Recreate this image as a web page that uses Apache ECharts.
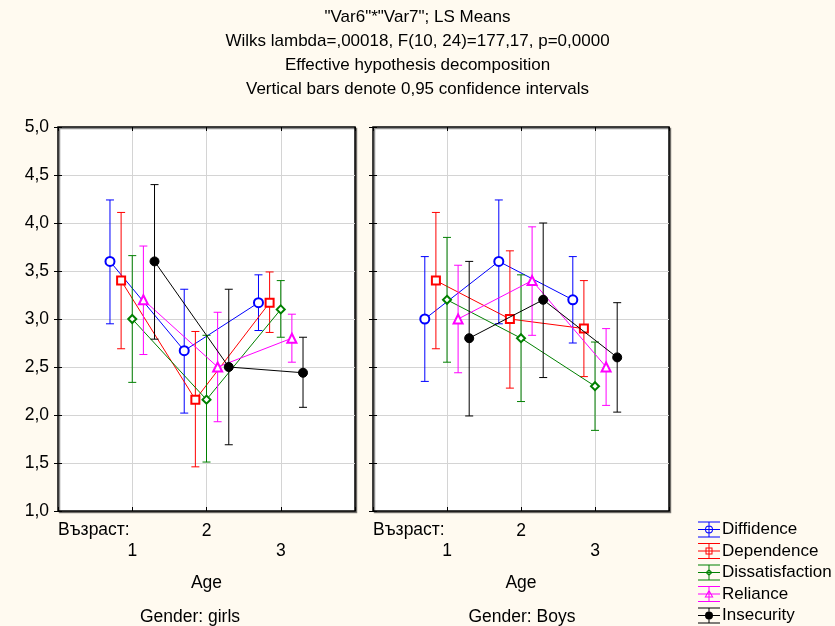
<!DOCTYPE html>
<html>
<head>
<meta charset="utf-8">
<script src="https://cdn.jsdelivr.net/npm/echarts@6/dist/echarts.min.js"></script>
<style>
html,body{margin:0;padding:0;background:#fffaf0;}
#chart{width:835px;height:626px;}
</style>
</head>
<body>
<div id="chart"></div>
<script>
// ---- data ----
const titleLines = [
  '"Var6"*"Var7"; LS Means',
  'Wilks lambda=,00018, F(10, 24)=177,17, p=0,0000',
  'Effective hypothesis decomposition',
  'Vertical bars denote 0,95 confidence intervals'
];
const ages = [1, 2, 3];
const ageTickLabels = ['', '1', '2', '3', ''];
const ageLevelCaption = 'Възраст:';
const xAxisTitle = 'Age';
const panelTitles = ['Gender: girls', 'Gender: Boys'];
const seriesNames = ['Diffidence', 'Dependence', 'Dissatisfaction', 'Reliance', 'Insecurity'];
const yTicks = [1.0, 1.5, 2.0, 2.5, 3.0, 3.5, 4.0, 4.5, 5.0];

const girlsMeans = [
  [3.60, 2.67, 3.17],
  [3.40, 2.16, 3.17],
  [3.00, 2.16, 3.10],
  [3.20, 2.50, 2.80],
  [3.60, 2.50, 2.44]
];
const girlsLower = [
  [2.95, 2.02, 2.88],
  [2.69, 1.46, 2.86],
  [2.34, 1.51, 2.81],
  [2.63, 1.93, 2.55],
  [2.79, 1.69, 2.08]
];
const girlsUpper = [
  [4.24, 3.31, 3.46],
  [4.11, 2.87, 3.49],
  [3.66, 2.83, 3.40],
  [3.76, 3.07, 3.05],
  [4.40, 3.31, 2.81]
];
const boysMeans = [
  [3.00, 3.60, 3.20],
  [3.40, 3.00, 2.90],
  [3.20, 2.80, 2.30],
  [3.00, 3.40, 2.50],
  [2.80, 3.20, 2.60]
];
const boysLower = [
  [2.35, 2.95, 2.75],
  [2.69, 2.28, 2.40],
  [2.55, 2.14, 1.84],
  [2.44, 2.83, 2.10],
  [1.99, 2.39, 2.03]
];
const boysUpper = [
  [3.65, 4.24, 3.65],
  [4.11, 3.71, 3.40],
  [3.85, 3.46, 2.76],
  [3.56, 3.96, 2.90],
  [3.60, 4.00, 3.17]
];

// ---- styles ----
const FONT = '"Liberation Sans", Arial, sans-serif';
const colors = ['#0000ff', '#ff0000', '#008000', '#ff00ff', '#000000'];
const symbols = ['emptyCircle', 'emptyRect', 'emptyDiamond', 'emptyTriangle', 'circle'];
const symbolSizes = [9, 8, 8, 9, 9];
const dodge = [-0.3, -0.15, 0, 0.15, 0.3];

const lines3 = 'M0 0H22V1H0Z M0 7.5H22V8.5H0Z M0 15H22V16H0Z M10.5 0H11.5V16H10.5Z ';
const legendIcons = [
  'path://' + lines3 + 'M7 8A4 4 0 1 1 15 8A4 4 0 1 1 7 8Z M8 8A3 3 0 1 0 14 8A3 3 0 1 0 8 8Z',
  'path://' + lines3 + 'M7.5 4.5H14.5V11.5H7.5Z M8.5 5.5V10.5H13.5V5.5Z',
  'path://' + lines3 + 'M11 4.5L14.5 8L11 11.5L7.5 8Z M11 5.9L8.9 8L11 10.1L13.1 8Z',
  'path://' + lines3 + 'M11 3.5L15.5 11.5L6.5 11.5Z M11 5.6L8.2 10.5L13.8 10.5Z',
  'path://' + lines3 + 'M7 8A4 4 0 1 1 15 8A4 4 0 1 1 7 8Z'
];

const gridBoxes = [
  {left: 58, top: 127, width: 297, height: 384},
  {left: 373, top: 127, width: 296, height: 384}
];
const grids = gridBoxes.map(g => Object.assign({}, g, {
  show: true, backgroundColor: '#ffffff', borderColor: '#000000', borderWidth: 1.5,
  shadowColor: 'rgba(0,0,0,0.45)', shadowOffsetX: 1.5, shadowOffsetY: 1.5, shadowBlur: 0
}));

function yFmt(v) { return v.toFixed(1).replace('.', ','); }

const splitStyle = {show: true, showMinLine: false, showMaxLine: false, lineStyle: {color: '#d4d4d4', width: 1}};

const xAxes = [];
const yAxes = [];
[0, 1].forEach(gi => {
  xAxes.push({
    type: 'value', gridIndex: gi, position: 'bottom', min: 0, max: 4, interval: 1,
    axisLine: {show: false},
    axisTick: {show: true, inside: true, length: 4, lineStyle: {color: '#000'}},
    splitLine: splitStyle,
    axisLabel: {
      show: true, color: '#000', fontFamily: FONT, fontSize: 17.5, lineHeight: 20, margin: 10,
      formatter: v => {
        const s = ageTickLabels[v] || '';
        return (v === 1 || v === 3) ? '\n' + s : s;
      }
    },
    name: xAxisTitle, nameLocation: 'middle', nameGap: 63,
    nameTextStyle: {color: '#000', fontFamily: FONT, fontSize: 17.5}
  });
  xAxes.push({
    type: 'value', gridIndex: gi, position: 'top', min: 0, max: 4, interval: 1,
    axisLine: {show: false},
    axisTick: {show: true, inside: true, length: 4, lineStyle: {color: '#000'}},
    splitLine: {show: false}, axisLabel: {show: false}
  });
  yAxes.push({
    type: 'value', gridIndex: gi, position: 'left', min: 1, max: 5, interval: 0.5,
    axisLine: {show: false},
    axisTick: {show: true, inside: true, length: 4, lineStyle: {color: '#000'}},
    splitLine: splitStyle,
    axisLabel: {show: gi === 0, color: '#000', fontFamily: FONT, fontSize: 17.5, margin: 9,
      showMinLabel: true, showMaxLabel: true, formatter: yFmt}
  });
  yAxes.push({
    type: 'value', gridIndex: gi, position: 'right', min: 1, max: 5, interval: 0.5,
    axisLine: {show: false},
    axisTick: {show: true, inside: true, length: 4, lineStyle: {color: '#000'}},
    splitLine: {show: false}, axisLabel: {show: false}
  });
});

const panels = [
  {means: girlsMeans, lower: girlsLower, upper: girlsUpper},
  {means: boysMeans, lower: boysLower, upper: boysUpper}
];

const series = [];
panels.forEach((p, gi) => {
  seriesNames.forEach((name, si) => {
    const color = colors[si];
    series.push({
      type: 'custom', name: name,
      xAxisIndex: gi * 2, yAxisIndex: gi * 2,
      data: ages.map((a, k) => [a + dodge[si], p.lower[si][k], p.upper[si][k]]),
      encode: {x: 0, y: [1, 2]},
      itemStyle: {color: color},
      z: 2 + si * 2,
      renderItem: (params, api) => {
        const x = api.value(0);
        const top = api.coord([x, api.value(2)]);
        const bot = api.coord([x, api.value(1)]);
        const hw = 4;
        const st = {stroke: color, lineWidth: 1};
        return {
          type: 'group',
          children: [
            {type: 'line', shape: {x1: top[0], y1: top[1], x2: bot[0], y2: bot[1]}, style: st},
            {type: 'line', shape: {x1: top[0] - hw, y1: top[1], x2: top[0] + hw, y2: top[1]}, style: st},
            {type: 'line', shape: {x1: bot[0] - hw, y1: bot[1], x2: bot[0] + hw, y2: bot[1]}, style: st}
          ]
        };
      }
    });
    series.push({
      type: 'line', name: name,
      xAxisIndex: gi * 2, yAxisIndex: gi * 2,
      data: ages.map((a, k) => [a + dodge[si], p.means[si][k]]),
      symbol: symbols[si], symbolSize: symbolSizes[si], showAllSymbol: true,
      lineStyle: {color: color, width: 1},
      itemStyle: {color: color, borderColor: color, borderWidth: 1},
      z: 3 + si * 2
    });
  });
});

const smallText = {fontFamily: FONT, fontSize: 17.5, fontWeight: 'normal', color: '#000', lineHeight: 20};

const option = {
  backgroundColor: '#fffaf0',
  animation: false,
  textStyle: {fontFamily: FONT},
  title: [
    {text: titleLines.join('\n'), left: 'center', top: 5, padding: 0,
     textStyle: {fontFamily: FONT, fontSize: 17, fontWeight: 'normal', color: '#000', lineHeight: 24}},
    {text: panelTitles[0], left: 190, top: 607, padding: 0, textAlign: 'center', textStyle: smallText},
    {text: panelTitles[1], left: 522, top: 607, padding: 0, textAlign: 'center', textStyle: smallText},
    {text: ageLevelCaption, left: gridBoxes[0].left, top: 520, padding: 0, textStyle: smallText},
    {text: ageLevelCaption, left: gridBoxes[1].left, top: 520, padding: 0, textStyle: smallText}
  ],
  legend: {
    orient: 'vertical', left: 698, top: 521, height: 140, width: 137, padding: 0,
    itemWidth: 22, itemHeight: 16, itemGap: 4.5,
    textStyle: {fontFamily: FONT, fontSize: 17, color: '#000', lineHeight: 16, padding: [0, 0, 0, -3]},
    data: seriesNames.map((n, i) => ({name: n, icon: legendIcons[i], itemStyle: {color: colors[i], borderWidth: 0}}))
  },
  grid: grids,
  xAxis: xAxes,
  yAxis: yAxes,
  series: series
};

const chart = echarts.init(document.getElementById('chart'), null, {renderer: 'canvas'});
chart.setOption(option);
</script>
</body>
</html>
